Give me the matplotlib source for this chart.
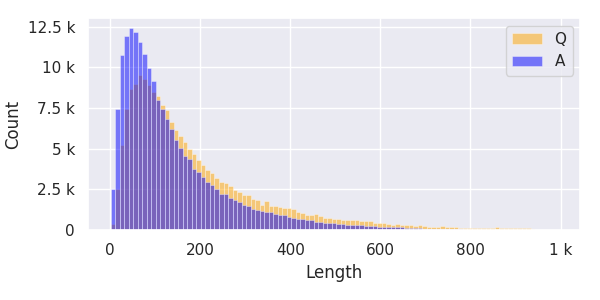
import numpy as np
import matplotlib
matplotlib.use("Agg")
import matplotlib.pyplot as plt
import seaborn as sns
from matplotlib.ticker import EngFormatter

# histogram counts per bin (~10 chars wide)
bin_start = 1
bin_width = 10.03
q_counts = [
    370, 2500, 5250, 7450, 8640, 8990, 9510, 9300, 8890, 8480,
    8210, 7660, 7370, 6650, 6130, 5760, 5390, 5000, 4650, 4320,
    3970, 3700, 3500, 3210, 2970, 2870, 2690, 2440, 2360, 2130,
    2130, 1920, 1820, 1550, 1760, 1470, 1510, 1410, 1350, 1350,
    1270, 1100, 1080, 940, 900, 980, 850, 770, 770, 710,
    690, 650, 650, 650, 650, 530, 530, 530, 440, 440,
    440, 380, 340, 400, 340, 320, 320, 280, 320, 260,
    200, 200, 210, 280, 200, 200, 216, 154, 154, 154,
    154, 154, 154, 120, 125, 165, 100, 100, 100, 115,
    100, 100, 115, 60, 20, 15, 10, 8, 5,
]
a_counts = [
    2550, 7450, 10740, 11920, 12410, 12140, 11530, 10810, 9980, 9140,
    8010, 7450, 6810, 6240, 5560, 5060, 4530, 4380, 3730, 3560,
    3290, 2980, 2780, 2530, 2230, 2230, 1990, 1860, 1720, 1550,
    1450, 1310, 1250, 1200, 1140, 1100, 980, 900, 900, 830,
    770, 690, 690, 590, 590, 525, 525, 463, 463, 463,
    400, 400, 320, 320, 320, 320, 280, 280, 280, 200,
    196, 196, 196, 196, 196, 134, 134, 134, 134, 93,
    72, 72, 80, 80, 51, 51, 51, 60, 20, 15,
    15, 12, 12, 10, 10, 8, 8, 6, 6, 5,
    5, 4, 4, 3, 3, 2, 2, 1, 1,
]
labels = ["Q", "A"]

sns.set_theme()

edges = bin_start + np.arange(len(q_counts)) * bin_width

fig, ax = plt.subplots(figsize=(6, 3), dpi=100)
fig.subplots_adjust(left=0.147, right=0.967, top=0.94, bottom=0.233)

ax.bar(edges, q_counts, width=bin_width, align="edge", color="orange",
       alpha=0.5, edgecolor="white", linewidth=0.5, label=labels[0])
ax.bar(edges, a_counts, width=bin_width, align="edge", color="blue",
       alpha=0.5, edgecolor="white", linewidth=0.5, label=labels[1])

ax.xaxis.set_major_formatter(EngFormatter())
ax.yaxis.set_major_formatter(EngFormatter())
ax.set_xlabel("Length")
ax.set_ylabel("Count")
ax.legend(loc="upper right")

plt.savefig("out.png")
